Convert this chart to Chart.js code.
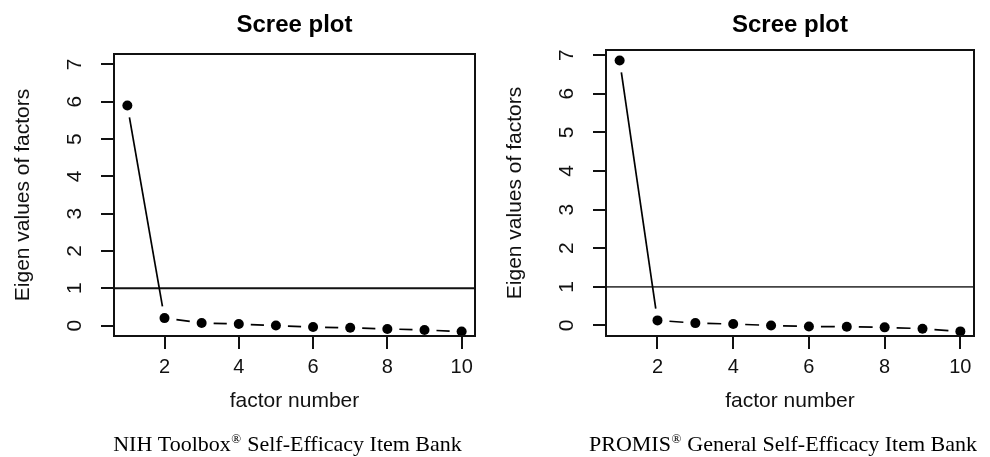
<!DOCTYPE html>
<html>
<head>
<meta charset="utf-8">
<script src="https://cdn.jsdelivr.net/npm/chart.js@4/dist/chart.umd.min.js"></script>
<style>
  html, body { margin: 0; padding: 0; background: #fff; }
  #wrap { position: relative; width: 990px; height: 457px; }
  canvas { position: absolute; top: 0; }
</style>
</head>
<body>
<div id="wrap">
  <canvas id="nihChart" width="495" height="457" style="left:0"></canvas>
  <canvas id="promisChart" width="495" height="457" style="left:495px"></canvas>
</div>
<script>
// values
const factors = [1, 2, 3, 4, 5, 6, 7, 8, 9, 10];
const nihEigen = [5.9, 0.2, 0.07, 0.04, 0.0, -0.04, -0.06, -0.09, -0.12, -0.16];
const promisEigen = [6.86, 0.13, 0.06, 0.035, 0.0, -0.03, -0.035, -0.05, -0.085, -0.155];
const xTickValues = [2, 4, 6, 8, 10];
const yTickValues = [0, 1, 2, 3, 4, 5, 6, 7];
const cutoff = 1;

const chartTitle = 'Scree plot';
const xTitle = 'factor number';
const yTitle = 'Eigen values of factors';

const sans = '"Liberation Sans", Arial, Helvetica, sans-serif';
const serif = '"Liberation Serif", "Times New Roman", serif';
const GAP = 12; // R type="b" leaves a gap round each point

const segLen = (ctx) => Math.hypot(ctx.p1.x - ctx.p0.x, ctx.p1.y - ctx.p0.y);

const framePlugin = {
    id: 'frame',
    beforeDatasetsDraw(chart, args, opts) {
        const {ctx, chartArea: a, scales: {y}} = chart;
        const yy = y.getPixelForValue(cutoff);
        ctx.save();
        ctx.strokeStyle = opts.cutColor;
        ctx.lineWidth = 1.8;
        ctx.beginPath();
        ctx.moveTo(a.left, yy);
        ctx.lineTo(a.right, yy);
        ctx.stroke();
        ctx.restore();
    },
    afterDraw(chart, args, opts) {
        const {ctx, chartArea: a} = chart;
        ctx.save();
        ctx.strokeStyle = '#111';
        ctx.lineWidth = 2;
        ctx.strokeRect(a.left, a.top, a.right - a.left, a.bottom - a.top);

        // title
        const cx = (a.left + a.right) / 2;
        ctx.fillStyle = '#000';
        ctx.font = 'bold 24px ' + sans;
        ctx.textAlign = 'center';
        ctx.textBaseline = 'alphabetic';
        ctx.fillText(chartTitle, cx, 32);

        // caption with superscript mark
        const [before, mark, after] = opts.caption;
        ctx.textAlign = 'left';
        ctx.font = '22px ' + serif;
        const w1 = ctx.measureText(before).width;
        const w3 = ctx.measureText(after).width;
        ctx.font = '13px ' + serif;
        const w2 = ctx.measureText(mark).width + 1;
        let x = cx - 7 - (w1 + w2 + w3) / 2;
        const base = 450.5;
        ctx.font = '22px ' + serif;
        ctx.fillText(before, x, base);
        x += w1;
        ctx.font = '13px ' + serif;
        ctx.fillText(mark, x + 0.5, base - 8);
        x += w2;
        ctx.font = '22px ' + serif;
        ctx.fillText(after, x, base);
        ctx.restore();
    }
};

const makeChart = (id, values, o) => {
    const data = {
        datasets: [{
            data: factors.map((f, i) => ({x: f, y: values[i]})),
            showLine: true,
            borderColor: '#000',
            borderWidth: 1.7,
            pointRadius: 5,
            pointHoverRadius: 5,
            pointBackgroundColor: '#000',
            pointBorderWidth: 0,
            segment: {
                borderDash: ctx => [Math.max(segLen(ctx) - 2 * GAP, 0.01), 2 * GAP],
                borderDashOffset: ctx => segLen(ctx) - GAP
            }
        }]
    };
    const tickGrid = {
        display: true,
        drawOnChartArea: false,
        drawTicks: true,
        tickLength: 13,
        color: '#111',
        lineWidth: 2
    };
    const config = {
        type: 'scatter',
        data: data,
        options: {
            responsive: false,
            animation: false,
            devicePixelRatio: 1,
            layout: { padding: { left: 0, top: o.top, right: o.right, bottom: 0 } },
            plugins: {
                legend: { display: false },
                tooltip: { enabled: false },
                frame: { caption: o.caption, cutColor: o.cutColor }
            },
            scales: {
                x: {
                    type: 'linear',
                    position: 'bottom',
                    min: 0.64,
                    max: 10.36,
                    afterBuildTicks: s => { s.ticks = xTickValues.map(v => ({value: v})); },
                    afterFit: s => { s.height = 121; },
                    grid: tickGrid,
                    border: { display: false },
                    ticks: {
                        color: '#111',
                        font: { family: sans, size: 20 },
                        padding: 6,
                        maxRotation: 0
                    },
                    title: {
                        display: true,
                        text: xTitle,
                        color: '#111',
                        font: { family: sans, size: 21 },
                        padding: { top: 0, bottom: 43 }
                    }
                },
                y: {
                    type: 'linear',
                    position: 'left',
                    min: o.yMin,
                    max: o.yMax,
                    afterBuildTicks: s => { s.ticks = yTickValues.map(v => ({value: v})); },
                    afterFit: s => { s.width = o.yWidth; },
                    grid: tickGrid,
                    border: { display: false },
                    ticks: {
                        color: '#111',
                        font: { family: sans, size: 21 },
                        minRotation: 90,
                        maxRotation: 90,
                        crossAlign: 'center',
                        padding: 20
                    },
                    title: {
                        display: true,
                        text: yTitle,
                        color: '#111',
                        font: { family: sans, size: 21 },
                        padding: { top: o.yTitlePad, bottom: 0 }
                    }
                }
            }
        },
        plugins: [framePlugin]
    };
    return new Chart(document.getElementById(id), config);
};

makeChart('nihChart', nihEigen, {
    top: 54, right: 20, yWidth: 114, yMin: -0.28, yMax: 7.28, yTitlePad: 11,
    cutColor: '#111',
    caption: ['NIH Toolbox', '®', ' Self-Efficacy Item Bank']
});
makeChart('promisChart', promisEigen, {
    top: 50, right: 16, yWidth: 111, yMin: -0.274, yMax: 7.134, yTitlePad: 8,
    cutColor: '#444',
    caption: ['PROMIS', '®', ' General Self-Efficacy Item Bank']
});
</script>
</body>
</html>
